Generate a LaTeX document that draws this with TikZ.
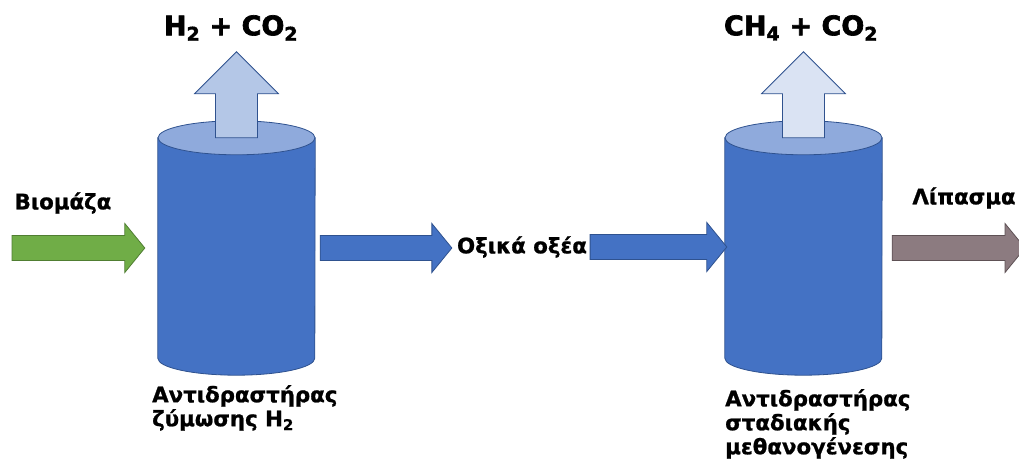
\documentclass[tikz,border=0pt]{standalone}
\usepackage{fontspec}
\setmainfont{DejaVu Sans}
\newfontfamily\heavyfont{DejaVu Sans Bold}[FakeBold=1]
\newfontfamily\blackfont{DejaVu Sans Bold}[FakeBold=2.5]
\usetikzlibrary{calc}

\definecolor{reactorblue}{HTML}{4472C4}
\definecolor{reactortop}{HTML}{8FAADC}
\definecolor{reactorline}{HTML}{2F528F}
\definecolor{gaslight}{HTML}{B4C7E7}
\definecolor{gaspale}{HTML}{DAE3F3}
\definecolor{feedgreen}{HTML}{70AD47}
\definecolor{feedline}{HTML}{507E32}
\definecolor{fertbrown}{HTML}{8C7B80}
\definecolor{fertline}{HTML}{5E5155}

% cylinder drawn over an empty node
\newcommand{\reactor}[1]{%
  \draw[reactorline, fill=reactorblue, line width=.8pt] ([yshift=-17pt]#1.north west) -- ([yshift=17pt]#1.south west)
    arc[start angle=180, end angle=360, x radius=78.5pt, y radius=17pt] -- ([yshift=-17pt]#1.north east) -- cycle;
  \draw[reactorline, fill=reactortop, line width=.8pt] ([yshift=-17pt]#1.north) ellipse[x radius=78.5pt, y radius=17pt];}

% block arrows
\newcommand{\rightarr}[3]{%
  \draw[#1] let \p1=#2, \p2=#3 in
    (\x1,\y1+12.5pt) -- (\x2-20pt,\y1+12.5pt) -- (\x2-20pt,\y1+24.5pt) -- (\x2,\y1)
    -- (\x2-20pt,\y1-24.5pt) -- (\x2-20pt,\y1-12.5pt) -- (\x1,\y1-12.5pt) -- cycle;}
\newcommand{\uparr}[3]{%
  \draw[#1] let \p1=#2, \p2=#3 in
    (\x1-21pt,\y1) -- (\x1-21pt,\y2-42pt) -- (\x1-42pt,\y2-42pt) -- (\x1,\y2)
    -- (\x1+42pt,\y2-42pt) -- (\x1+21pt,\y2-42pt) -- (\x1+21pt,\y1) -- cycle;}

\begin{document}
\begin{tikzpicture}[x=1pt, y=1pt,
  tank/.style={minimum width=157pt, minimum height=254pt, inner sep=0pt},
  lbl/.style={font=\heavyfont\fontsize{21.3}{24}\selectfont, inner sep=0pt, align=left},
  gas/.style={font=\blackfont\fontsize{27}{30}\selectfont, inner sep=0pt},
  feed/.style={fill=feedgreen, draw=feedline, line width=.8pt},
  acid/.style={fill=reactorblue, draw=reactorline, line width=.8pt},
  fert/.style={fill=fertbrown, draw=fertline, line width=.8pt},
  gasone/.style={fill=gaslight, draw=reactorline, line width=.8pt},
  gastwo/.style={fill=gaspale, draw=reactorline, line width=.8pt}]
  \useasboundingbox (0,0) rectangle (1019,-460);

  \node[tank] (r1) at (236.5,-248) {};
  \node[tank] (r2) at (803.5,-248) {};
  \reactor{r1}
  \reactor{r2}

  \node[gas] (h2) at (231,-28) {H\textsubscript{2} + CO\textsubscript{2}};
  \node[gas] (ch4) at (801,-28) {CH\textsubscript{4} + CO\textsubscript{2}};
  \node[lbl] (biomass) at (63,-203) {Βιομάζα};
  \node[lbl] (acids) at (522,-247) {Οξικά οξέα};
  \node[lbl] (fert) at (964,-198) {Λίπασμα};
  \node[lbl, anchor=north west] (r1text) at (152,-385) {Αντιδραστήρας\\ζύμωσης H\textsubscript{2}};
  \node[lbl, anchor=north west] (r2text) at (725,-389) {Αντιδραστήρας\\σταδιακής\\μεθανογένεσης};

  \coordinate (feedin) at (12,-248);
  \coordinate (fertout) at (1025,-248);

  \uparr{gasone}{([yshift=-17pt]r1.north)}{([yshift=69pt]r1.north)}
  \uparr{gastwo}{([yshift=-17pt]r2.north)}{([yshift=69pt]r2.north)}
  \rightarr{feed}{(feedin)}{([xshift=-13pt]r1.west)}
  \rightarr{acid}{([xshift=5pt]r1.east)}{([xshift=-5pt]acids.west)}
  \rightarr{acid}{([xshift=3pt]acids.east)}{([xshift=2pt]r2.west)}
  \rightarr{fert}{([xshift=10pt]r2.east)}{(fertout)}
\end{tikzpicture}
\end{document}
